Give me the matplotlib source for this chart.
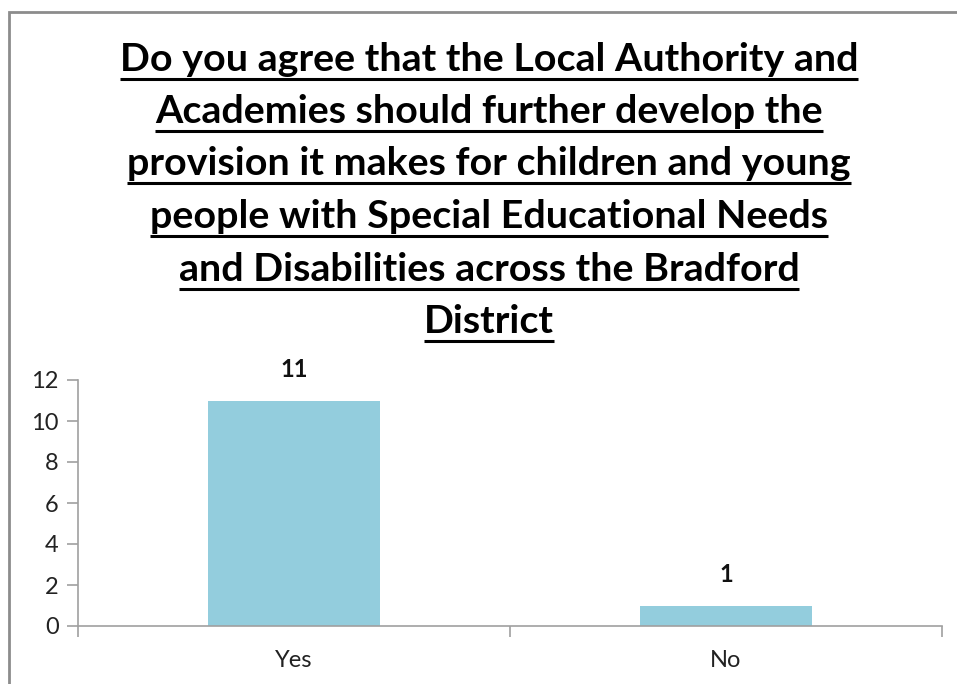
import matplotlib
matplotlib.use("Agg")
import matplotlib.pyplot as plt
from matplotlib.patches import Rectangle
from matplotlib.lines import Line2D

categories = ["Yes", "No"]
counts = [11, 1]
y_ticks = [0, 2, 4, 6, 8, 10, 12]
title_lines = [
    "Do you agree that the Local Authority and",
    "Academies should further develop the",
    "provision it makes for children and young",
    "people with Special Educational Needs",
    "and Disabilities across the Bradford",
    "District",
]

W, H, DPI = 957, 684, 100
fig = plt.figure(figsize=(W / DPI, H / DPI), dpi=DPI)
fig.patch.set_facecolor("white")

# outer chart border
fig.patches.append(Rectangle((9 / W, -0.1), 1.2, (H - 12) / H + 0.1,
                             transform=fig.transFigure, fill=False,
                             edgecolor="#8c8c8c", linewidth=2))

ax = fig.add_axes([78 / W, (H - 626) / H, (942 - 78) / W, (626 - 380) / H])
x = list(range(len(categories)))
ax.bar(x, counts, width=0.4, color="#93CDDD", zorder=2)
ax.set_xlim(-0.5, len(categories) - 0.5)
ax.set_ylim(0, 12)
ax.set_yticks(y_ticks)
ax.set_yticklabels([str(t) for t in y_ticks], fontsize=17, family="Lato",
                   color="#222222")
ax.set_xticks([-0.5, 0.5, 1.5])
ax.set_xticklabels([])
ax.set_xticks(x, minor=True)
ax.set_xticklabels(categories, minor=True, fontsize=17, family="Lato",
                   color="#222222")
ax.tick_params(axis="x", which="major", length=8, width=1.2, color="#a0a0a0",
               direction="out")
ax.tick_params(axis="x", which="minor", length=0, pad=17)
ax.tick_params(axis="y", length=8, width=1.2, color="#a0a0a0",
               direction="out", pad=6)
for s in ("top", "right"):
    ax.spines[s].set_visible(False)
for s in ("left", "bottom"):
    ax.spines[s].set_color("#a0a0a0")
    ax.spines[s].set_linewidth(1.2)

for xi, v in zip(x, counts):
    ax.annotate(str(v), (xi, v), xytext=(0, 14), textcoords="offset points",
                ha="center", va="bottom", fontsize=17, fontweight="bold",
                family="Lato", color="#111111")

# multi-line underlined title
baselines = [71, 123, 175, 228, 281, 333]
cx = 489 / W
texts = []
for line, by in zip(title_lines, baselines):
    t = fig.text(cx, (H - by) / H, line, ha="center", va="baseline",
                 fontsize=28.4, fontweight="bold", family="Lato", color="black")
    texts.append((t, by))

fig.canvas.draw()
r = fig.canvas.get_renderer()
for t, by in texts:
    bb = t.get_window_extent(r)
    uy = (H - by - 8) / H
    fig.add_artist(Line2D([bb.x0 / W, bb.x1 / W], [uy, uy],
                          transform=fig.transFigure, color="black",
                          linewidth=2.2, solid_capstyle="butt"))

fig.savefig("out.png", dpi=DPI, facecolor="white")
